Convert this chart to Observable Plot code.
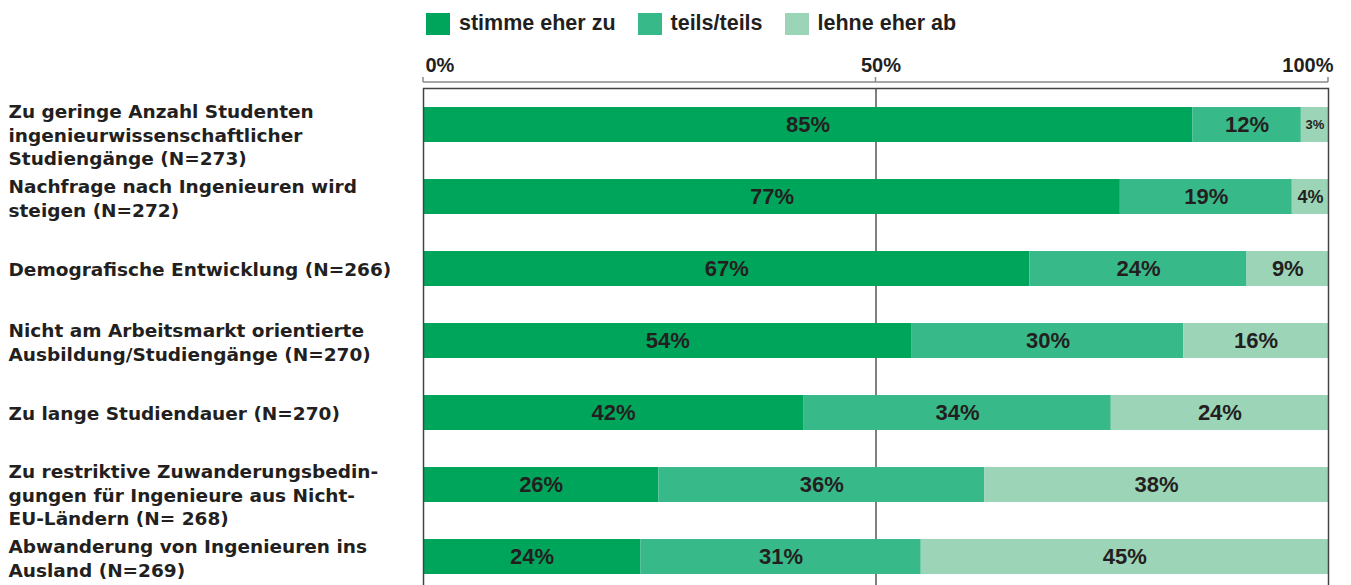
<!DOCTYPE html>
<html>
<head>
<meta charset="utf-8">
<script src="https://cdn.jsdelivr.net/npm/d3@7"></script>
<script src="https://cdn.jsdelivr.net/npm/@observablehq/plot@0.6"></script>
<style>
  body { margin: 0; background: #fff; }
  #wrap { position: relative; width: 1351px; height: 585px; overflow: hidden; }
  #legend { position: absolute; left: 426px; top: 11px; display: flex; align-items: center;
            font-family: "Liberation Sans", Arial, sans-serif; font-weight: bold; font-size: 21.5px; color: #231f20; }
  .item { display: flex; align-items: center; margin-right: 22px; }
  .sw { width: 24px; height: 22px; margin-right: 9px; }
  #chart { position: absolute; left: 0; top: 0; }
</style>
</head>
<body>
<div id="wrap">
  <div id="chart"></div>
  <div id="legend"></div>
</div>
<script>
const questions = [
  "Zu geringe Anzahl Studenten\ningenieurwissenschaftlicher\nStudiengänge (N=273)",
  "Nachfrage nach Ingenieuren wird\nsteigen (N=272)",
  "Demografische Entwicklung (N=266)",
  "Nicht am Arbeitsmarkt orientierte\nAusbildung/Studiengänge (N=270)",
  "Zu lange Studiendauer (N=270)",
  "Zu restriktive Zuwanderungsbedin-\ngungen für Ingenieure aus Nicht-\nEU-Ländern (N= 268)",
  "Abwanderung von Ingenieuren ins\nAusland (N=269)"
];
const responses = ["stimme eher zu", "teils/teils", "lehne eher ab"];
const agree    = [85, 77, 67, 54, 42, 26, 24];
const neutral  = [12, 19, 24, 30, 34, 36, 31];
const disagree = [3, 4, 9, 16, 24, 38, 45];
const tickValues = [0, 50, 100];
const tickLabels = ["0%", "50%", "100%"];
const colors = ["#00a55c", "#38b98a", "#9cd4b8"];

const series = [agree, neutral, disagree];
const rows = questions.flatMap((q, i) => series.map((s, j) => ({q, resp: responses[j], value: s[i]})));
const ticks = tickValues.map((v, i) => ({v, label: tickLabels[i]}));
const lineCount = q => q.split("\n").length;

const textColor = "#231f20";
const labelFont = "'DejaVu Sans', sans-serif";
const numFont = "'Liberation Sans', Arial, sans-serif";
const labelStyle = {frameAnchor: "left", textAnchor: "start", dx: -415, lineHeight: 1.25,
  fontSize: 18.5, fontWeight: "bold", fontFamily: labelFont, fill: textColor};
const tickStyle = {x: "v", text: "label", frameAnchor: "top", lineAnchor: "middle", dy: -23,
  fontSize: 20, fontWeight: "bold", fontFamily: numFont, fill: textColor};

const plot = Plot.plot({
  width: 1351,
  height: 592,
  marginLeft: 423,
  marginRight: 23,
  marginTop: 88,
  marginBottom: 0,
  x: {domain: [0, 100], axis: null},
  y: {domain: questions, paddingInner: 0.514, paddingOuter: 0.257, axis: null},
  color: {domain: responses, range: colors},
  style: {background: "#fff"},
  marks: [
    Plot.ruleX([50], {stroke: "#555", strokeWidth: 1.5}),
    Plot.barX(rows, {x: "value", y: "q", z: "resp", fill: "resp"}),
    Plot.text(rows, Plot.stackX({
      x: "value", y: "q", z: "resp",
      text: d => d.value + "%",
      fontSize: d => d.value <= 3 ? 13 : d.value <= 4 ? 18 : 22,
      fontWeight: "bold", fontFamily: numFont, fill: textColor
    })),
    Plot.frame({stroke: "#444", strokeWidth: 1.5}),
    // category labels
    Plot.text(questions.filter(q => lineCount(q) === 3), {y: d => d, text: d => d, lineAnchor: "top", dy: -23, ...labelStyle}),
    Plot.text(questions.filter(q => lineCount(q) === 2), {y: d => d, text: d => d, lineAnchor: "top", dy: -20, ...labelStyle}),
    Plot.text(questions.filter(q => lineCount(q) === 1), {y: d => d, text: d => d, lineAnchor: "middle", ...labelStyle}),
    // tick labels
    Plot.text(ticks.filter(t => t.v === 0), {...tickStyle, textAnchor: "start", dx: 2}),
    Plot.text(ticks.filter(t => t.v > 0 && t.v < 100), {...tickStyle, textAnchor: "middle", dx: 5}),
    Plot.text(ticks.filter(t => t.v === 100), {...tickStyle, textAnchor: "end", dx: 5})
  ]
});

// top axis line and tick marks through Plot's x scale
const xs = plot.scale("x");
const axisY = 88 - 6;
const svg = d3.select(plot);
svg.append("line")
  .attr("x1", xs.apply(tickValues[0])).attr("x2", xs.apply(tickValues[tickValues.length - 1]))
  .attr("y1", axisY).attr("y2", axisY)
  .attr("stroke", "#8a8a8a").attr("stroke-width", 1.5);
tickValues.forEach(v => {
  svg.append("line")
    .attr("x1", xs.apply(v)).attr("x2", xs.apply(v))
    .attr("y1", axisY - 5).attr("y2", axisY)
    .attr("stroke", "#8a8a8a").attr("stroke-width", 1.5);
});

document.getElementById("chart").appendChild(plot);

const legend = document.getElementById("legend");
responses.forEach((r, i) => {
  const item = document.createElement("div");
  item.className = "item";
  const sw = document.createElement("div");
  sw.className = "sw";
  sw.style.background = colors[i];
  const t = document.createElement("span");
  t.textContent = r;
  item.appendChild(sw);
  item.appendChild(t);
  legend.appendChild(item);
});
</script>
</body>
</html>
